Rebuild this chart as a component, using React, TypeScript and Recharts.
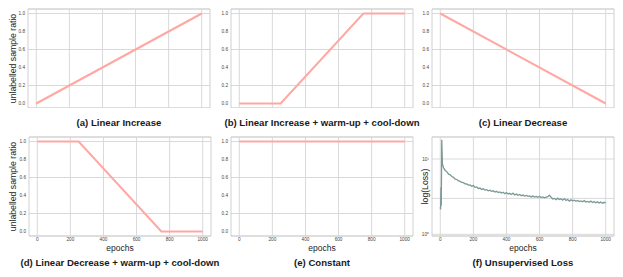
import React from 'react';
import { LineChart, Line, XAxis, YAxis, CartesianGrid, ReferenceArea, ReferenceLine } from 'recharts';

// shared axes
const epochTicks = [0, 200, 400, 600, 800, 1000];
const ratioTicks = [0, 0.2, 0.4, 0.6, 0.8, 1.0];
const lossTicks = [1, 3, 10];

// (a) - (e): unlabelled sample ratio schedules
const increaseEpochs = [0, 1000];
const increaseRatio = [0, 1];
const warmIncreaseEpochs = [0, 250, 750, 1000];
const warmIncreaseRatio = [0, 0, 1, 1];
const decreaseEpochs = [0, 1000];
const decreaseRatio = [1, 0];
const warmDecreaseEpochs = [0, 250, 750, 1000];
const warmDecreaseRatio = [1, 1, 0, 0];
const constantEpochs = [0, 1000];
const constantRatio = [1, 1];

// (f): unsupervised loss
const lossEpochs = [
  0, 2, 4, 6, 9, 13, 20, 30, 40, 50, 60, 70, 80, 90, 100, 110, 120, 130, 140, 150,
  160, 170, 180, 190, 200, 210, 220, 230, 240, 250, 260, 270, 280, 290, 300, 310,
  320, 330, 340, 350, 360, 370, 380, 390, 400, 410, 420, 430, 440, 450, 460, 470,
  480, 490, 500, 510, 520, 530, 540, 550, 560, 570, 580, 590, 600, 610, 620, 630,
  640, 650, 660, 670, 680, 690, 700, 710, 720, 730, 740, 750, 760, 770, 780, 790,
  800, 810, 820, 830, 840, 850, 860, 870, 880, 890, 900, 910, 920, 930, 940, 950,
  960, 970, 980, 990, 1000,
];
const lossValues = [
  2.3, 2.15, 4.2, 2.4, 18.0, 8.6, 7.6, 7.05, 6.75, 6.3, 6.15, 5.85, 5.7, 5.42, 5.35, 5.12, 5.05, 4.88, 4.86, 4.68,
  4.66, 4.5, 4.52, 4.36, 4.44, 4.2, 4.26, 4.05, 4.12, 3.94, 4.02, 3.86, 3.92, 3.78, 3.86, 3.72,
  3.78, 3.64, 3.72, 3.58, 3.66, 3.54, 3.62, 3.46, 3.58, 3.42, 3.5, 3.38, 3.52, 3.34, 3.42, 3.3,
  3.38, 3.26, 3.32, 3.22, 3.28, 3.2, 3.24, 3.14, 3.22, 3.12, 3.18, 3.1, 3.2, 3.08, 3.14, 3.06,
  3.12, 3.16, 3.3, 3.1, 2.94, 3.0, 2.88, 3.02, 2.9, 2.96, 2.84, 2.98, 2.82, 2.9, 2.76, 2.88,
  2.78, 2.84, 2.74, 2.82, 2.72, 2.78, 2.7, 2.8, 2.68, 2.74, 2.66, 2.76, 2.64, 2.72, 2.62, 2.7,
  2.6, 2.68, 2.58, 2.66, 2.62,
];

const zip = (xs: number[], ys: number[]) => xs.map((x, i) => ({ epoch: x, value: ys[i] }));

const FONT = '"Liberation Sans", Arial, sans-serif';
const GRID = '#d9d9d9';
const BOX_W = 182;
const BOX_H = 99;
const AXIS_W = 28;
const PAD = 4;
const X_DOMAIN = [-50, 1050];

interface PanelProps {
  boxLeft: number;
  boxTop: number;
  data: { epoch: number; value: number }[];
  title: string;
  titleTop: number;
  showX?: boolean;
  yLabel?: string;
  yLabelDx?: number;
  log?: boolean;
}

const Panel: React.FC<PanelProps> = ({ boxLeft, boxTop, data, title, titleTop, showX, yLabel, yLabelDx = -1, log }) => {
  const bottomH = showX ? 20 : 0;
  const yDomain = log ? [0.95, 19.6] : [-0.05, 1.05];
  const tickStyle = { fontSize: 4.7, fill: '#444', fontFamily: FONT };

  return (
    <>
      <div style={{ position: 'absolute', left: boxLeft - AXIS_W, top: boxTop - PAD }}>
        <LineChart
          width={AXIS_W + BOX_W + PAD}
          height={PAD + BOX_H + bottomH}
          data={data}
          margin={{ top: PAD, right: PAD, bottom: 0, left: 0 }}
        >
          <CartesianGrid stroke={GRID} strokeWidth={1} vertical={false} />
          {epochTicks.map(t => (
            <ReferenceLine key={t} x={t} stroke={GRID} strokeWidth={1} />
          ))}
          <ReferenceArea
            x1={X_DOMAIN[0]}
            x2={X_DOMAIN[1]}
            y1={yDomain[0]}
            y2={yDomain[1]}
            fill="none"
            stroke="#d0d0d0"
            strokeWidth={1}
          />
          <XAxis
            dataKey="epoch"
            type="number"
            domain={X_DOMAIN}
            ticks={epochTicks}
            height={bottomH}
            tick={showX ? tickStyle : false}
            axisLine={false}
            tickLine={false}
            tickSize={0}
            tickMargin={2}
            label={
              showX
                ? { value: 'epochs', position: 'center', dy: 2, style: { fontSize: 8.5, fill: '#222', fontFamily: FONT } }
                : undefined
            }
          />
          <YAxis
            type="number"
            width={AXIS_W}
            domain={yDomain}
            scale={log ? 'log' : 'auto'}
            allowDataOverflow
            ticks={log ? lossTicks : ratioTicks}
            tickFormatter={(v: number) =>
              log ? (v === 1 ? '10⁰' : v === 10 ? '10¹' : '') : v.toFixed(1)
            }
            tick={tickStyle}
            axisLine={false}
            tickLine={false}
            tickSize={0}
            tickMargin={3}
            label={
              yLabel
                ? {
                    value: yLabel,
                    angle: -90,
                    position: 'center',
                    dx: yLabelDx,
                    style: { fontSize: 8.7, fill: '#222', fontFamily: FONT, textAnchor: 'middle' },
                  }
                : undefined
            }
          />
          <Line
            type="linear"
            dataKey="value"
            stroke={log ? '#7b9996' : '#ffa8a3'}
            strokeWidth={log ? 1.3 : 2}
            dot={false}
            isAnimationActive={false}
          />
        </LineChart>
      </div>
      <div
        style={{
          position: 'absolute',
          left: boxLeft + BOX_W / 2 - 150,
          width: 300,
          top: titleTop,
          textAlign: 'center',
          whiteSpace: 'nowrap',
          fontFamily: FONT,
          fontWeight: 'bold',
          fontSize: 9.6,
          lineHeight: '12px',
          color: '#1a1a1a',
        }}
      >
        {title}
      </div>
    </>
  );
};

export default function App() {
  return (
    <div
      style={{
        position: 'absolute',
        left: 0,
        top: 0,
        width: 623,
        height: 277,
        background: '#fff',
        overflow: 'hidden',
      }}
    >
      <Panel boxLeft={28} boxTop={9} titleTop={117} data={zip(increaseEpochs, increaseRatio)}
        title="(a) Linear Increase" yLabel="unlabelled sample ratio" />
      <Panel boxLeft={231} boxTop={9} titleTop={117} data={zip(warmIncreaseEpochs, warmIncreaseRatio)}
        title="(b) Linear Increase + warm-up + cool-down" />
      <Panel boxLeft={432} boxTop={9} titleTop={117} data={zip(decreaseEpochs, decreaseRatio)}
        title="(c) Linear Decrease" />
      <Panel boxLeft={29} boxTop={137} titleTop={257} showX data={zip(warmDecreaseEpochs, warmDecreaseRatio)}
        title="(d) Linear Decrease + warm-up + cool-down" yLabel="unlabelled sample ratio" yLabelDx={-2} />
      <Panel boxLeft={231} boxTop={137} titleTop={257} showX data={zip(constantEpochs, constantRatio)}
        title="(e) Constant" />
      <Panel boxLeft={432} boxTop={137} titleTop={257} showX log data={zip(lossEpochs, lossValues)}
        title="(f) Unsupervised Loss" yLabel="log(Loss)" yLabelDx={7} />
    </div>
  );
}
